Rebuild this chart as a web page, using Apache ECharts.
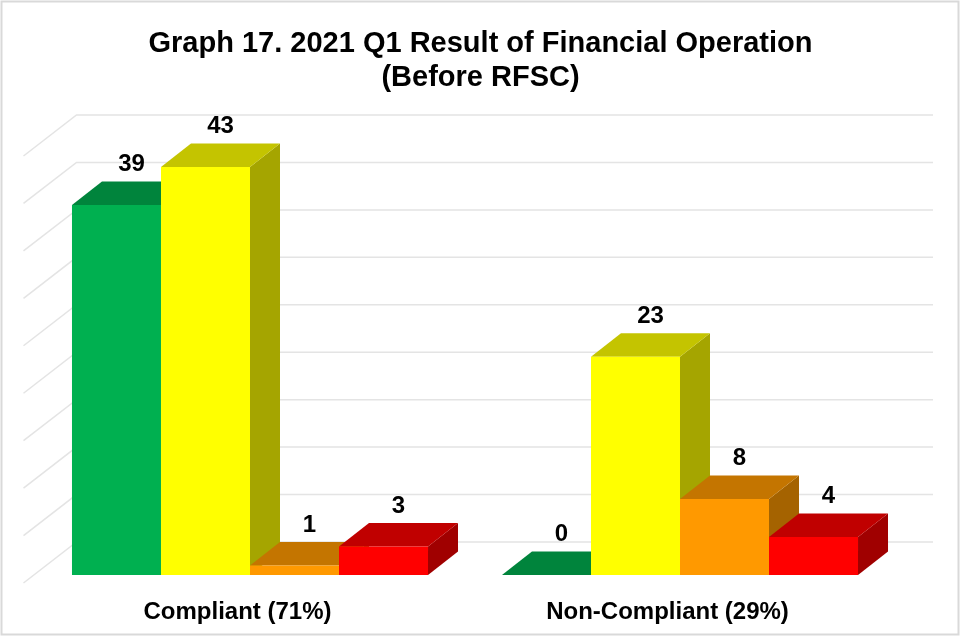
<!DOCTYPE html>
<html>
<head>
<meta charset="utf-8">
<script src="https://cdn.jsdelivr.net/npm/echarts@6/dist/echarts.min.js"></script>
<style>
html,body{margin:0;padding:0;background:#fff;}
#chart{width:961px;height:637px;}
</style>
</head>
<body>
<div id="chart"></div>
<script>
// ---- data ----
const titleText = 'Graph 17. 2021 Q1 Result of Financial Operation\n(Before RFSC)';
const categories = ['Compliant (71%)', 'Non-Compliant (29%)'];
const greenValues = [39, 0];
const yellowValues = [43, 23];
const orangeValues = [1, 8];
const redValues = [3, 4];
const yTicks = [0, 5, 10, 15, 20, 25, 30, 35, 40, 45];

// ---- styling ----
const FONT = "'Liberation Sans', Arial, sans-serif";
const palette = [
  { front: '#00B050', top: '#00843C', side: '#006F33' },
  { front: '#FFFF00', top: '#C4C400', side: '#A5A500' },
  { front: '#FF9900', top: '#C47500', side: '#A56300' },
  { front: '#FF0000', top: '#C00000', side: '#A00000' }
];
const DX = 30, DY = 23.5;          // bar depth projection
const FLOOR_FX = 11.5, FLOOR_FY = 8; // floor front offset from bar front plane
const BACK_BX = 41.5, BACK_BY = 33;  // back wall offset from bar front plane
const BAR_FRAC = 0.207;

const chart = echarts.init(document.getElementById('chart'));

function barSeries(name, values, k) {
  const col = palette[k];
  return {
    type: 'custom',
    name: name,
    data: values.map((v, i) => [i, v]),
    encode: { x: 0, y: 1 },
    renderItem: function (params, api) {
      const ci = api.value(0), v = api.value(1);
      const base = api.coord([ci, 0]);
      const top = api.coord([ci, v]);
      const band = api.size([1, 0])[0];
      const w = band * BAR_FRAC;
      const x0 = base[0] - 2 * w + k * w;
      const yb = base[1], yt = top[1];
      const children = [];
      children.push({
        type: 'polygon',
        shape: { points: [[x0 + w, yt], [x0 + w + DX, yt - DY], [x0 + w + DX, yb - DY], [x0 + w, yb]] },
        style: { fill: col.side }
      });
      children.push({
        type: 'polygon',
        shape: { points: [[x0, yt], [x0 + w, yt], [x0 + w + DX, yt - DY], [x0 + DX, yt - DY]] },
        style: { fill: col.top }
      });
      if (yb - yt > 0.5) {
        children.push({
          type: 'rect',
          shape: { x: x0, y: yt, width: w, height: yb - yt },
          style: { fill: col.front }
        });
      }
      children.push({
        type: 'text',
        x: x0 + w / 2 + DX / 2,
        y: yt - DY - 5,
        style: {
          text: String(v),
          fill: '#000',
          font: 'bold 24px ' + FONT,
          align: 'center',
          verticalAlign: 'bottom'
        }
      });
      return { type: 'group', children: children };
    }
  };
}

const option = {
  animation: false,
  backgroundColor: '#fff',
  title: {
    text: titleText,
    left: 'center',
    top: 22,
    textStyle: { fontFamily: FONT, fontWeight: 'bold', fontSize: 29, lineHeight: 34, color: '#000' }
  },
  graphic: [{
    type: 'rect',
    shape: { x: 1.5, y: 1.5, width: 957, height: 633 },
    style: { fill: 'none', stroke: '#d9d9d9', lineWidth: 2 },
    z: 100
  }],
  grid: { left: 35, width: 860, top: 148, height: 427 },
  xAxis: {
    type: 'category',
    data: categories,
    axisLine: { show: false },
    axisTick: { show: false },
    axisLabel: {
      fontFamily: FONT, fontWeight: 'bold', fontSize: 24, color: '#000',
      margin: 25, padding: [0, 25, 0, 0]
    },
    splitLine: { show: false }
  },
  yAxis: {
    type: 'value', min: 0, max: 45, interval: 5,
    show: false,
    splitLine: { show: false }
  },
  series: [
    {
      type: 'custom',
      name: 'grid',
      silent: true,
      data: yTicks.map(t => [0, t]),
      encode: { x: 0, y: 1 },
      renderItem: function (params, api) {
        const cs = params.coordSys;
        const y = api.coord([0, api.value(1)])[1];
        return {
          type: 'polyline',
          shape: {
            points: [
              [cs.x - FLOOR_FX, y + FLOOR_FY],
              [cs.x + BACK_BX, y - BACK_BY],
              [cs.x + cs.width + 38, y - BACK_BY]
            ]
          },
          style: { stroke: '#e4e4e4', lineWidth: 1.5, fill: 'none' }
        };
      }
    },
    barSeries('Green', greenValues, 0),
    barSeries('Yellow', yellowValues, 1),
    barSeries('Orange', orangeValues, 2),
    barSeries('Red', redValues, 3)
  ]
};
chart.setOption(option);
</script>
</body>
</html>
